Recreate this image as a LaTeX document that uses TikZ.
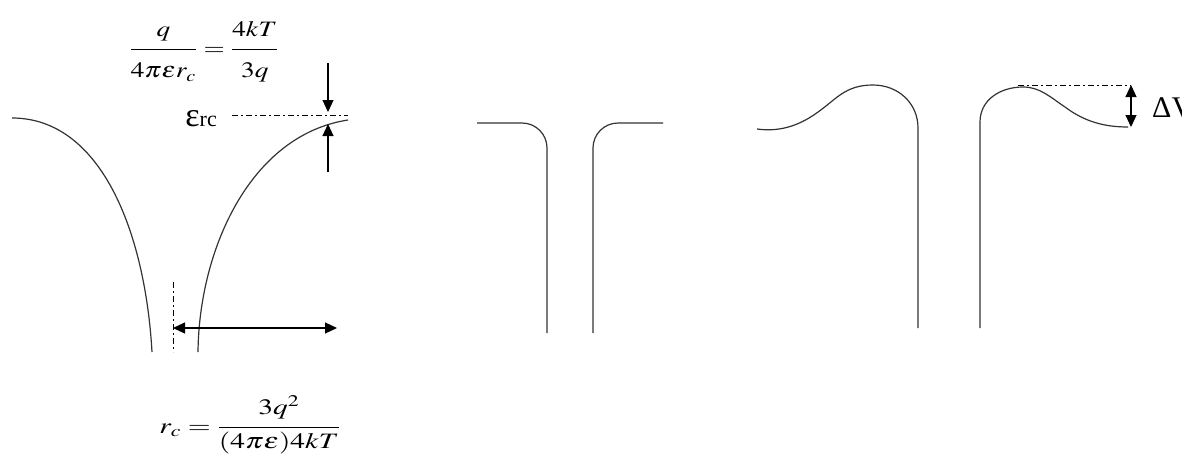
\documentclass[tikz,border=0pt]{standalone}
\usepackage{mathptmx}
\usepackage[no-math]{fontspec}
\setmainfont{Liberation Serif}
\usetikzlibrary{arrows.meta, positioning}

\newcommand{\numgap}{\rule[-0.45em]{0pt}{0.45em}}
\newcommand{\dengap}{\rule{0pt}{1.15em}}

\begin{document}
\begin{tikzpicture}[
    x=1pt, y=-1pt,
    wall/.style={line width=1.2pt, color=black!80},
    dimarrow/.style={-{Triangle[length=12pt, width=11pt]}, line width=1.1pt},
    twoway/.style={{Triangle[length=12pt, width=11pt]}-{Triangle[length=12pt, width=11pt]},
                   line width=1.1pt},
    guide/.style={line width=0.9pt, dash pattern=on 6pt off 3pt on 2pt off 3pt},
    formula/.style={inner sep=0pt, font=\fontsize{22}{26}\selectfont}
]
\useasboundingbox (0,0) rectangle (1190,459);

% left panel: barrier for an ion
\draw [wall] (12,118) .. controls (100,118) and (145,230) .. (152,352);
\draw [wall] (198,352) .. controls (199,250) and (250,135) .. (348,120);

\coordinate (rimL)   at (232,115);
\coordinate (rimR)   at (348,115);
\coordinate (downA)  at (328,63);
\coordinate (downB)  at (328,112);
\coordinate (upA)    at (328,172);
\coordinate (upB)    at (328,124);
\coordinate (axisT)  at (173,282);
\coordinate (axisB)  at (173,352);
\coordinate (radL)   at (173,328);
\coordinate (radR)   at (337,328);

\draw [guide]    (rimL)  -- (rimR);
\draw [dimarrow] (downA) -- (downB);
\draw [dimarrow] (upA)   -- (upB);
\draw [guide]    (axisT) -- (axisB);
\draw [twoway]   (radL)  -- (radR);

\node (cond)  [formula, xscale=1.24] at (204,52)
      {$\displaystyle\frac{\numgap q}{\dengap 4\pi\varepsilon r_c}=\frac{\numgap 4kT}{\dengap 3q}$};
\node (erc)   [anchor=base east, inner sep=0pt] at (217,126)
      {{\fontsize{34}{34}\selectfont ε}{\fontsize{22}{22}\selectfont rc}};
\node (rcval) [formula, xscale=1.34] at (250,425)
      {$\displaystyle r_c=\frac{\numgap 3q^2}{(4\pi\varepsilon)4kT}$};

% middle panel: plain pore
\draw [wall, rounded corners=25pt] (477,123) -- (547,123) -- (547,333);
\draw [wall, rounded corners=25pt] (663,123) -- (593,123) -- (593,333);

% right panel: pore with a rim barrier
\draw [wall] (757,129) .. controls (800,135) and (825,105) .. (840,95)
             .. controls (850,88) and (860,85) .. (873,85)
             .. controls (898,85) and (918,103) .. (918,128) -- (918,328);
\draw [wall] (980,328) -- (980,122) .. controls (980,100) and (1000,87) .. (1023,87)
             .. controls (1040,87) and (1050,97) .. (1065,107)
             .. controls (1085,122) and (1105,127) .. (1128,127);

\coordinate (peak)  at (1018,85);
\coordinate (topV)  at (1131,85);
\coordinate (botV)  at (1131,127);

\draw [guide]  (peak) -- (topV);
\draw [twoway] (topV) -- (botV);
\begin{scope}
  \clip (1140,60) rectangle (1181,150);
  \node (dv) [anchor=base west, inner sep=0pt] at (1152,117)
        {\fontsize{30}{30}\selectfont ΔV};
\end{scope}
\end{tikzpicture}
\end{document}
